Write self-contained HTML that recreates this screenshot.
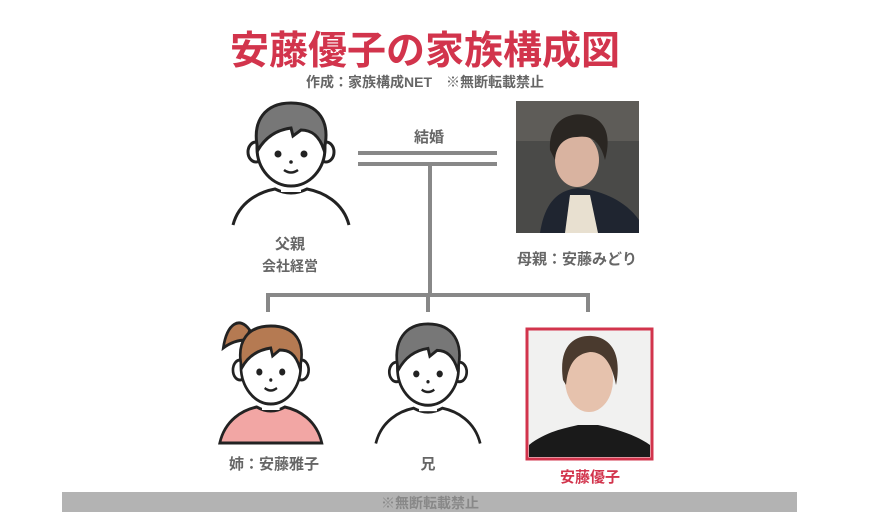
<!DOCTYPE html>
<html><head><meta charset="utf-8"><style>
html,body{margin:0;padding:0;background:#fff;}
svg{display:block;}
text{font-family:"Liberation Sans","Noto Sans CJK JP",sans-serif;font-weight:bold;}
</style></head><body>
<svg width="880" height="512" viewBox="0 0 880 512" xmlns="http://www.w3.org/2000/svg">
<defs>
<g id="body">
  <path d="M2 125 C8 102 28 92 44 89 Q60 97 76 89 C92 92 112 102 118 125" fill="#fff" stroke="#222" stroke-width="3"/>
  <rect x="50" y="76" width="20" height="16" fill="#fff"/>
  <ellipse cx="25" cy="52" rx="8" ry="10" fill="#fff" stroke="#222" stroke-width="3"/>
  <ellipse cx="95" cy="52" rx="8" ry="10" fill="#fff" stroke="#222" stroke-width="3"/>
  <ellipse cx="60" cy="48" rx="34" ry="38" fill="#fff" stroke="#222" stroke-width="3"/>
  <circle cx="47" cy="54" r="3.5" fill="#222"/>
  <circle cx="73" cy="54" r="3.5" fill="#222"/>
  <circle cx="60" cy="62" r="1.8" fill="#222"/>
  <path d="M53 70 Q60 75 67 70" fill="none" stroke="#222" stroke-width="2.5"/>
</g>
</defs>

<text x="425" y="64" font-size="39" fill="#d2344c" text-anchor="middle">安藤優子の家族構成図</text>
<text x="425" y="87" font-size="14" fill="#666" text-anchor="middle">作成：家族構成NET　※無断転載禁止</text>

<!-- father -->
<g transform="translate(231,100)">
  <use href="#body"/>
  <path d="M27 50 C20 20 35 3 60 3 C88 3 100 22 93 50 C88 35 80 30 70 30 L62 36 L60 28 C45 30 34 38 27 50 Z" fill="#777" stroke="#222" stroke-width="3"/>
</g>
<text x="290" y="249" font-size="15" fill="#666" text-anchor="middle">父親</text>
<text x="290" y="271" font-size="14" fill="#666" text-anchor="middle">会社経営</text>

<!-- marriage -->
<text x="429" y="142" font-size="15" fill="#666" text-anchor="middle">結婚</text>
<rect x="358" y="151" width="139" height="4" fill="#888"/>
<rect x="358" y="162" width="139" height="4" fill="#888"/>
<rect x="428" y="162" width="4" height="135" fill="#888"/>
<rect x="266" y="293" width="324" height="4" fill="#888"/>
<rect x="266" y="293" width="4" height="19" fill="#888"/>
<rect x="426" y="293" width="4" height="19" fill="#888"/>
<rect x="586" y="293" width="4" height="19" fill="#888"/>

<!-- mother photo -->
<rect x="516" y="101" width="123" height="132" fill="#4a4a48"/>
<rect x="516" y="101" width="123" height="40" fill="#5e5c58"/>
<path d="M540 233 C545 200 560 190 578 188 C600 190 625 200 639 220 L639 233 Z" fill="#1f2530"/>
<path d="M565 233 L570 195 L590 195 L598 233 Z" fill="#e8e0d0"/>
<ellipse cx="577" cy="160" rx="22" ry="27" fill="#d9b3a0"/>
<path d="M550 150 C548 120 570 112 585 115 C605 118 612 135 605 160 C600 140 590 135 577 137 C565 137 556 145 555 160 Z" fill="#2a2622"/>
<text x="577" y="264" font-size="15" fill="#666" text-anchor="middle">母親：安藤みどり</text>

<!-- sister -->
<g transform="translate(218,318) scale(0.88,1)">
  <path d="M2 125 C8 102 28 92 44 89 Q60 97 76 89 C92 92 112 102 118 125 Z" fill="#f2a6a4" stroke="#222" stroke-width="3"/>
  <rect x="50" y="76" width="20" height="16" fill="#fff"/>
  <ellipse cx="25" cy="52" rx="8" ry="10" fill="#fff" stroke="#222" stroke-width="3"/>
  <ellipse cx="95" cy="52" rx="8" ry="10" fill="#fff" stroke="#222" stroke-width="3"/>
  <ellipse cx="60" cy="48" rx="34" ry="38" fill="#fff" stroke="#222" stroke-width="3"/>
  <circle cx="47" cy="54" r="3.5" fill="#222"/>
  <circle cx="73" cy="54" r="3.5" fill="#222"/>
  <circle cx="60" cy="62" r="1.8" fill="#222"/>
  <path d="M53 70 Q60 75 67 70" fill="none" stroke="#222" stroke-width="2.5"/>
  <path d="M36 12 C25 -2 10 5 6 30 C15 24 24 22 32 22 Z" fill="#b57a52" stroke="#222" stroke-width="3"/>
  <path d="M27 50 C20 22 35 8 60 8 C88 8 100 24 93 50 C88 35 80 32 70 32 L62 38 L60 30 C45 32 34 38 27 50 Z" fill="#b57a52" stroke="#222" stroke-width="3"/>
</g>
<text x="274" y="469" font-size="15" fill="#666" text-anchor="middle">姉：安藤雅子</text>

<!-- brother -->
<g transform="translate(374,321) scale(0.9,0.98)">
  <use href="#body"/>
  <path d="M27 50 C20 20 35 3 60 3 C88 3 100 22 93 50 C88 35 80 30 70 30 L62 36 L60 28 C45 30 34 38 27 50 Z" fill="#777" stroke="#222" stroke-width="3"/>
</g>
<text x="428" y="469" font-size="15" fill="#666" text-anchor="middle">兄</text>

<!-- Yuko photo -->
<rect x="527" y="329" width="125" height="130" fill="#f1f1f0" stroke="#d2344c" stroke-width="3"/>
<path d="M529 457 L529 445 C545 432 565 428 578 425 L598 425 C612 428 635 434 650 445 L650 457 Z" fill="#1a1a1a"/>
<ellipse cx="589" cy="380" rx="24" ry="32" fill="#e6c2ad"/>
<path d="M563 380 C558 345 575 335 592 336 C612 338 622 355 616 385 C612 365 605 352 590 352 C575 354 568 365 566 385 Z" fill="#4a3a2e"/>
<text x="590" y="482" font-size="15" fill="#d2344c" text-anchor="middle">安藤優子</text>

<!-- footer -->
<rect x="62" y="492" width="735" height="20" fill="#b3b3b3"/>
<text x="430" y="508" font-size="14" fill="#888" text-anchor="middle">※無断転載禁止</text>
</svg>
</body></html>
